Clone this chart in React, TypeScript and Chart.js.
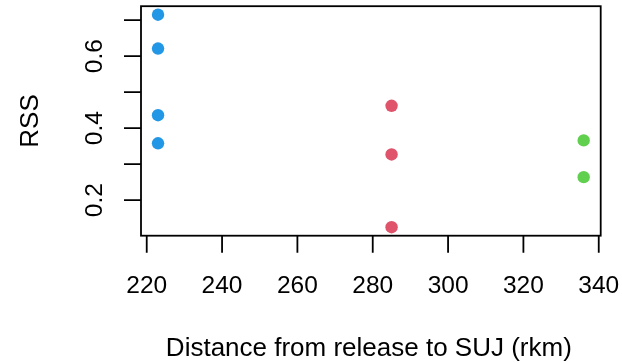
import React, { useEffect, useRef } from "react";
import { Chart, registerables } from "chart.js";

Chart.register(...registerables);

const groupBlueX = [223, 223, 223, 223];
const groupBlueY = [0.715, 0.621, 0.436, 0.358];
const groupRedX = [285, 285, 285];
const groupRedY = [0.462, 0.327, 0.125];
const groupGreenX = [336, 336];
const groupGreenY = [0.366, 0.264];

const xTicks = [220, 240, 260, 280, 300, 320, 340];
const yTicks = [0.2, 0.3, 0.4, 0.5, 0.6, 0.7];
const yLabelTicks = [0.2, 0.4, 0.6];

const xTitle = "Distance from release to SUJ (rkm)";
const yTitle = "RSS";

const FONT = "'Liberation Sans', Arial, sans-serif";

const toPoints = (xs: number[], ys: number[]) => xs.map((x, i) => ({ x, y: ys[i] }));

const axesPlugin = {
  id: "rAxes",
  afterDraw(chart: any) {
    const ctx = chart.ctx;
    const area = chart.chartArea;
    const xs = chart.scales.x;
    const ys = chart.scales.y;
    ctx.save();
    ctx.strokeStyle = "#000";
    ctx.fillStyle = "#000";
    ctx.lineWidth = 1.8;
    // box
    ctx.strokeRect(area.left, area.top, area.right - area.left, area.bottom - area.top);
    // x ticks
    ctx.beginPath();
    xTicks.forEach((v) => {
      const px = xs.getPixelForValue(v);
      ctx.moveTo(px, area.bottom);
      ctx.lineTo(px, area.bottom + 17);
    });
    // y ticks
    yTicks.forEach((v) => {
      const py = ys.getPixelForValue(v);
      ctx.moveTo(area.left, py);
      ctx.lineTo(area.left - 17, py);
    });
    ctx.stroke();

    // x tick labels
    ctx.font = `24.5px ${FONT}`;
    ctx.textAlign = "center";
    ctx.textBaseline = "alphabetic";
    xTicks.forEach((v) => {
      ctx.fillText(String(v), xs.getPixelForValue(v), 293);
    });
    // y tick labels (rotated)
    yLabelTicks.forEach((v) => {
      const py = ys.getPixelForValue(v);
      ctx.save();
      ctx.translate(101.7, py);
      ctx.rotate(-Math.PI / 2);
      ctx.fillText(v.toFixed(1), 0, 0);
      ctx.restore();
    });
    // titles
    ctx.font = `26px ${FONT}`;
    ctx.fillText(xTitle, (area.left + area.right) / 2 - 2, 355.7);
    ctx.save();
    ctx.translate(38.3, (area.top + area.bottom) / 2);
    ctx.rotate(-Math.PI / 2);
    ctx.fillText(yTitle, 0, 0);
    ctx.restore();
    ctx.restore();
  },
};

export default function App() {
  const ref = useRef<HTMLCanvasElement | null>(null);
  useEffect(() => {
    document.body.style.margin = "0";
    const canvas = ref.current;
    if (!canvas) return;
    const chart = new Chart(canvas, {
      type: "scatter",
      data: {
        datasets: [
          { data: toPoints(groupBlueX, groupBlueY), backgroundColor: "#2297E6" },
          { data: toPoints(groupRedX, groupRedY), backgroundColor: "#DF536B" },
          { data: toPoints(groupGreenX, groupGreenY), backgroundColor: "#61D04F" },
        ],
      },
      options: {
        animation: false,
        responsive: false,
        devicePixelRatio: 1,
        layout: { padding: { left: 141, right: 21.3, top: 6, bottom: 127.3 } },
        elements: { point: { radius: 6.2, borderWidth: 0, hoverRadius: 6.2 } },
        plugins: { legend: { display: false }, tooltip: { enabled: false } },
        scales: {
          x: { type: "linear", min: 218.48, max: 340.52, display: false },
          y: { type: "linear", min: 0.1014, max: 0.7386, display: false },
        },
      },
      plugins: [axesPlugin],
    });
    return () => chart.destroy();
  }, []);
  return (
    <div style={{ position: "absolute", left: 0, top: 0, width: 622, height: 363, background: "#fff" }}>
      <canvas ref={ref} width={622} height={363} style={{ width: 622, height: 363 }} />
    </div>
  );
}
